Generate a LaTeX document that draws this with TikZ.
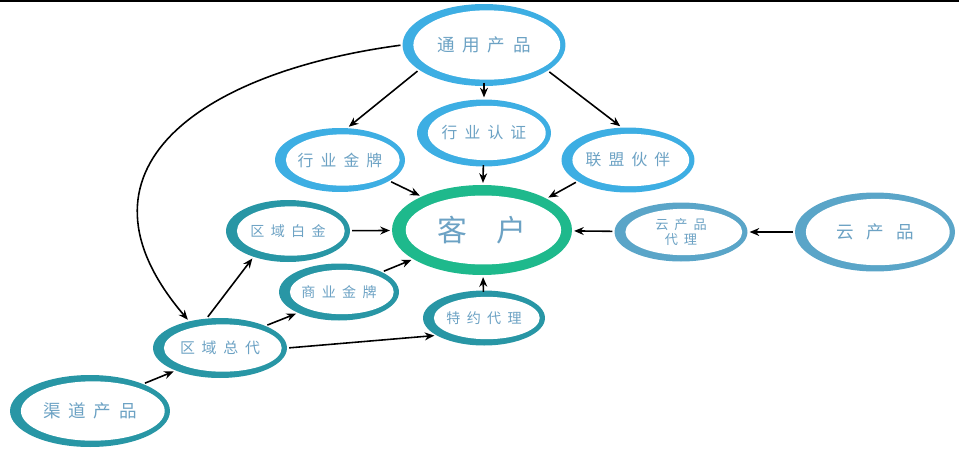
\documentclass[tikz,border=0pt]{standalone}
\usepackage{fontspec}
\newfontfamily\cjk[LetterSpace=45]{Noto Sans CJK SC}
\newfontfamily\cjkmid[LetterSpace=70]{Noto Sans CJK SC}
\newfontfamily\cjkwide[LetterSpace=100]{Noto Sans CJK SC}
\definecolor{ringblue}{RGB}{61,174,227}
\definecolor{ringgreen}{RGB}{30,185,140}
\definecolor{ringteal}{RGB}{40,150,165}
\definecolor{ringsteel}{RGB}{90,165,200}
\definecolor{labelblue}{RGB}{108,162,196}
\usetikzlibrary{shapes.geometric,arrows.meta,calc}

\begin{document}
\begin{tikzpicture}[x=0.02cm,y=-0.02cm,
    ring/.style={ellipse,fill=#1,inner sep=0pt,text=labelblue,align=center,font=\cjk\fontsize{9}{11}\selectfont,
        path picture={\fill[white] let \p1=($(path picture bounding box.north east)-(path picture bounding box.center)$) in
            ([xshift=1.6pt]path picture bounding box.center) ellipse ({\x1-4.6pt} and {\y1-3.6pt});}},
    hub/.style={ellipse,fill=#1,inner sep=0pt,text=labelblue,font=\cjkwide\fontsize{17}{20}\selectfont,
        path picture={\fill[white] let \p1=($(path picture bounding box.north east)-(path picture bounding box.center)$) in
            ([xshift=0.8pt]path picture bounding box.center) ellipse ({\x1-7pt} and {\y1-6pt});}},
    arr/.style={-{Stealth[length=5.5pt,width=4.5pt]},line width=0.9pt,shorten >=1pt,shorten <=1pt}
]
    \useasboundingbox (0,0) rectangle (959,450);
    \draw[line width=1.5pt] (0,0.8) -- (959,0.8);

    % top group
    \node[ring=ringblue,minimum width=3.26cm,minimum height=1.64cm,font=\cjk\fontsize{10}{12}\selectfont] (tongyong) at (484,45) {通用产品};
    \node[ring=ringblue,minimum width=2.68cm,minimum height=1.34cm] (renzheng) at (484,133) {行业认证};
    \node[ring=ringblue,minimum width=2.6cm,minimum height=1.28cm] (hyjinpai) at (340,160) {行业金牌};
    \node[ring=ringblue,minimum width=2.66cm,minimum height=1.3cm] (lianmeng) at (628,160) {联盟伙伴};

    % customer
    \node[hub=ringgreen,minimum width=3.6cm,minimum height=1.8cm] (kehu) at (482,230) {客户};

    % channel group
    \node[ring=ringteal,minimum width=2.48cm,minimum height=1.24cm,font=\cjk\fontsize{8}{10}\selectfont] (baijin) at (288,231) {区域白金};
    \node[ring=ringteal,minimum width=2.4cm,minimum height=1.14cm,font=\cjk\fontsize{8}{10}\selectfont] (syjinpai) at (339,292) {商业金牌};
    \node[ring=ringteal,minimum width=2.44cm,minimum height=1.1cm,font=\cjk\fontsize{8}{10}\selectfont] (teyue) at (484,318) {特约代理};
    \node[ring=ringteal,minimum width=2.68cm,minimum height=1.2cm,font=\cjk\fontsize{8.5}{10}\selectfont] (zongdai) at (220,348) {区域总代};
    \node[ring=ringteal,minimum width=3.2cm,minimum height=1.44cm,font=\cjk\fontsize{10}{12}\selectfont] (qudao) at (90,411) {渠道产品};

    % cloud group
    \node[ring=ringsteel,minimum width=2.66cm,minimum height=1.18cm,font=\cjk\fontsize{7.5}{9}\selectfont] (yundl) at (681,232) {云产品\\代理};
    \node[ring=ringsteel,minimum width=3.2cm,minimum height=1.58cm,font=\cjkmid\fontsize{10}{12}\selectfont] (yun) at (875,232) {云产品};

    \draw[arr] (tongyong.201) -- (hyjinpai.77);
    \draw[arr,shorten <=-2pt] (tongyong) -- (renzheng);
    \draw[arr] (tongyong.-22) -- (lianmeng.101);
    \draw[arr] (hyjinpai.-23) -- (kehu.151);
    \draw[arr,shorten <=-1pt] (renzheng) -- (kehu);
    \draw[arr] (lianmeng.203) -- (kehu.26);
    \draw[arr] (baijin) -- (kehu);
    \draw[arr] (syjinpai.25) -- (kehu.203);
    \draw[arr,shorten <=-1pt] (teyue) -- (kehu);
    \draw[arr] (yundl) -- (kehu);
    \draw[arr] (yun) -- (yundl);
    \draw[arr] (zongdai.114) -- (baijin.217);
    \draw[arr] (zongdai.26) -- (syjinpai.207);
    \draw[arr] (zongdai.east) -- (teyue.200);
    \draw[arr] (qudao.27) -- (zongdai.207);
    \draw[arr] (tongyong.west) .. controls (200,72) and (60,170) .. (zongdai.139);
\end{tikzpicture}
\end{document}
